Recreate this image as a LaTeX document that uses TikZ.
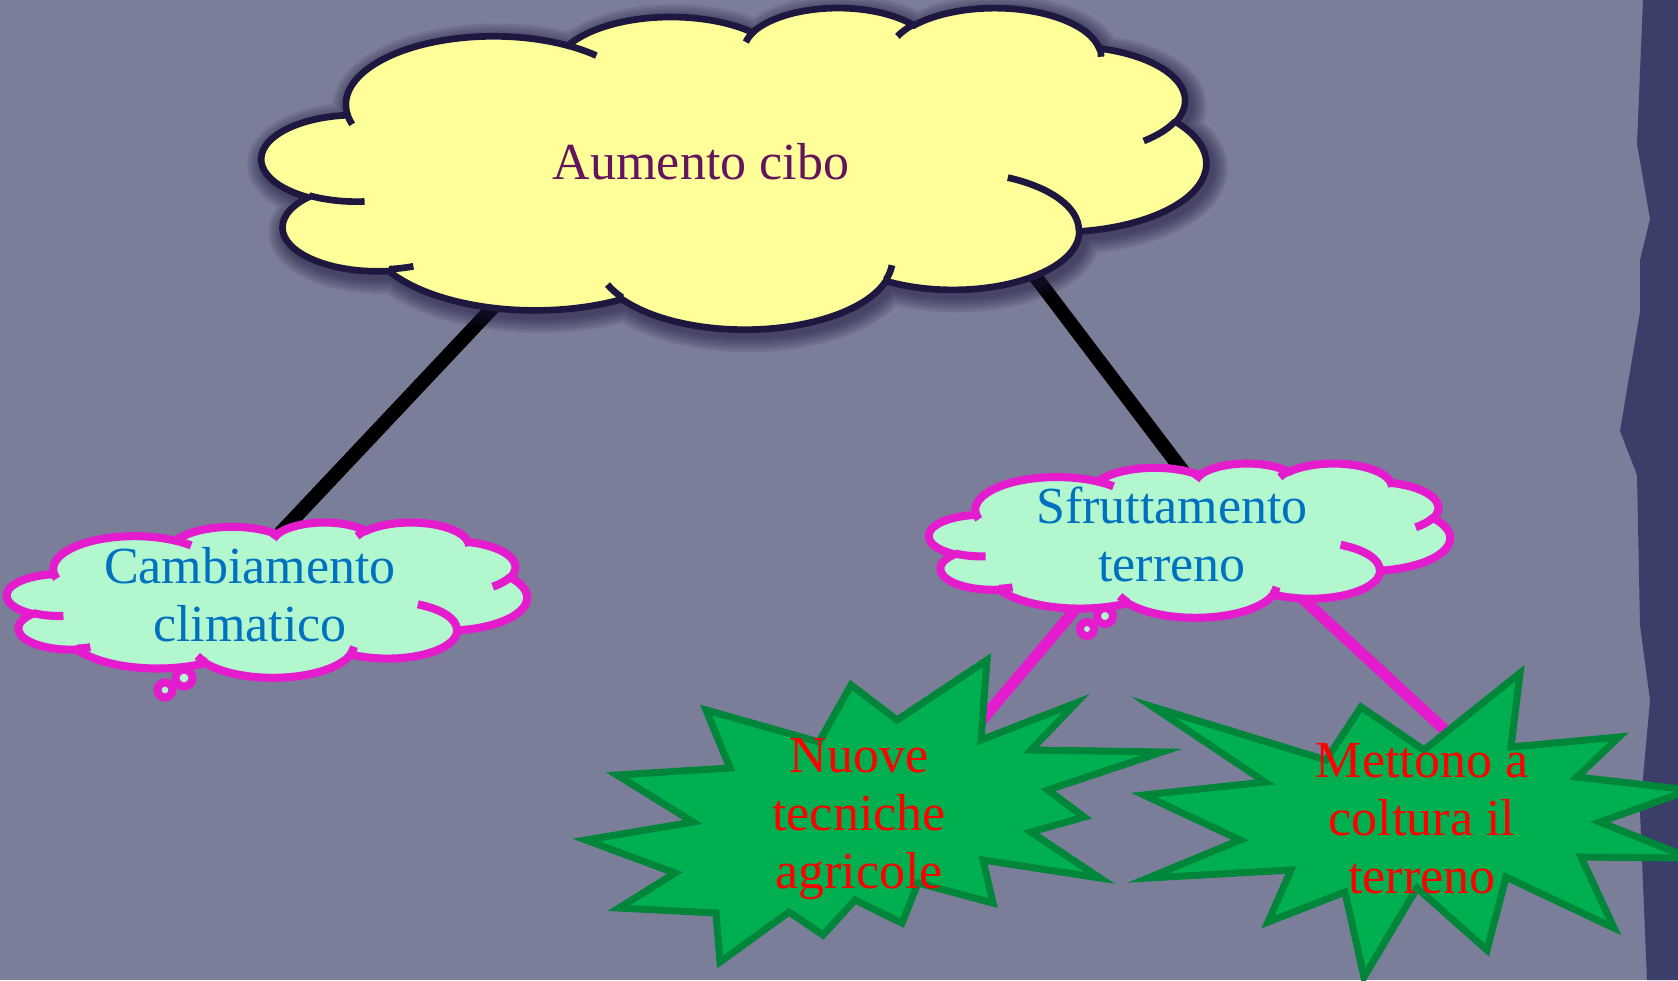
\documentclass[tikz,border=0pt]{standalone}
\usepackage{fontspec}
\setmainfont{Liberation Serif}
\usepackage{xcolor}
\definecolor{wall}{RGB}{123,126,153}
\definecolor{rim}{RGB}{60,62,106}
\definecolor{butter}{RGB}{255,255,153}
\definecolor{ink}{RGB}{30,24,64}
\definecolor{mint}{RGB}{178,247,206}
\definecolor{fuchsia}{RGB}{228,28,206}
\definecolor{leaf}{RGB}{0,176,80}
\definecolor{moss}{RGB}{0,134,58}
\definecolor{azure}{RGB}{0,112,192}
\definecolor{plum}{RGB}{100,20,92}
\usepackage{tikz}
\usetikzlibrary{backgrounds}
% one puff of the cloud: x radius, y radius, start angle, sweep
\newcommand\ooarc[4]{arc[x radius=#1,y radius=#2,start angle={atan2(sin(#3)/#2,cos(#3)/#1)},delta angle={mod(atan2(sin(#3+#4)/#2,cos(#3+#4)/#1)-atan2(sin(#3)/#2,cos(#3)/#1)+720,360)}]}
% cloud outline in a 100 x 100 box
\newcommand\cloudpath{(9.028,33.264) \ooarc{15.632}{21.273}{-190.487}{123.781} \ooarc{12.345}{16.822}{-144.102}{89.945} \ooarc{10.104}{13.762}{-145.808}{99.723} \ooarc{11.243}{15.266}{-130.986}{117.242} \ooarc{12.345}{16.836}{-78.709}{109.027} \ooarc{15.683}{21.343}{-46.267}{130.269} \ooarc{13.391}{18.211}{0.625}{114.033} \ooarc{15.630}{21.331}{22.452}{115.173} \ooarc{17.870}{24.405}{66.243}{75.711} \ooarc{10.093}{13.699}{-274.942}{146.736} \ooarc{10.058}{13.762}{-246.829}{152.519} -- cycle}
% the short arcs inside the cloud
\newcommand\cloudarcs{(10.863,60.595) \ooarc{10.058}{13.762}{86.742}{26.430} (16.037,80.785) \ooarc{10.093}{13.699}{73.611}{11.448} (38.144,90.486) \ooarc{15.630}{21.331}{137.624}{14.081} (66.729,80.442) \ooarc{15.630}{21.331}{6.453}{15.998} (79.002,53.134) \ooarc{13.391}{18.211}{-70.292}{70.917} (96.755,35.542) \ooarc{12.345}{16.836}{30.318}{27.752} (88.713,12.560) \ooarc{11.243}{15.266}{-13.744}{14.859} (67.310,9.148) \ooarc{11.243}{15.266}{-149.182}{18.195} (51.252,10.926) \ooarc{10.104}{13.762}{-163.494}{17.686} (32.407,12.019) \ooarc{15.632}{21.273}{-66.707}{12.319} (9.553,36.549) \ooarc{15.632}{21.273}{157.654}{11.858}}

\begin{document}
\begin{tikzpicture}[x=0.1mm,y=-0.1mm,
every node/.style={align=center,inner sep=0pt,font=\fontsize{14.8}{16.5}\selectfont},
pale/.style={draw=ink,line width=1.9pt},
mist/.style={draw=fuchsia,line width=2.3pt},
burst/.style={draw=moss,line width=2pt,fill=leaf},
stem/.style={line width=4pt,black},
twig/.style={line width=3.2pt,fuchsia}]
\useasboundingbox (0,0) rectangle (1678,980);
% clouds
\begin{scope}[shift={(262,7)},xscale=9.44,yscale=3.21]
\foreach \w in {10,8.5,7,5.5,4,2.5}
  \draw[ink,line width=\w pt,opacity=.12,shift={(.4,1.5)}] \cloudpath;
\filldraw[pale,fill=butter] \cloudpath;
\draw[pale] \cloudarcs;
\end{scope}
\node[text=plum] (cibo) at (701,162) {Aumento cibo};
\begin{scope}[shift={(7,522)},xscale=5.20,yscale=1.55]
\filldraw[mist,fill=mint] \cloudpath;
\draw[mist] \cloudarcs;
\end{scope}
\filldraw[mist,fill=mint] (165,690) circle[radius=7.5];
\filldraw[mist,fill=mint] (184,678) circle[radius=8.5];
\node[text=azure] (clima) at (250,595) {Cambiamento\\climatico};
\begin{scope}[shift={(929,463)},xscale=5.21,yscale=1.54]
\filldraw[mist,fill=mint] \cloudpath;
\draw[mist] \cloudarcs;
\end{scope}
\filldraw[mist,fill=mint] (1087,629) circle[radius=7];
\filldraw[mist,fill=mint] (1105,616) circle[radius=8];
\node[text=azure] (terreno) at (1172,534) {Sfruttamento\\terreno};
% bursts
\filldraw[burst] (706,710) -- (819,742) -- (851,685) -- (897,720) -- (987,660) -- (981,740) -- (1076,703) -- (1031,750) -- (1162,752) -- (1048,790) -- (1084,817) -- (1031,832) -- (1100,878) -- (983,860) -- (993,903) -- (918,883) -- (902,923) -- (855,900) -- (823,935) -- (789,912) -- (720,962) -- (716,913) -- (619,908) -- (675,873) -- (586,840) -- (693,822) -- (617,775) -- (730,768) -- cycle;
\node[text=red] (tecniche) at (859,819) {Nuove\\tecniche\\agricole};
\filldraw[burst] (1153,707) -- (1326,760) -- (1361,707) -- (1424,750) -- (1520,673) -- (1511,747) -- (1619,737) -- (1577,777) -- (1690,790) -- (1600,822) -- (1690,858) -- (1581,857) -- (1614,928) -- (1506,877) -- (1487,950) -- (1417,888) -- (1364,977) -- (1345,892) -- (1268,922) -- (1291,870) -- (1148,878) -- (1240,840) -- (1144,795) -- (1265,782) -- cycle;
\node[text=red] (coltura) at (1422,819) {Mettono a\\coltura il\\terreno};
% links, behind the shapes
\begin{scope}[on background layer]
\fill[wall] (0,0) rectangle (1678,980);
\fill[rim] (1643,0) -- (1637,144) -- (1650,219) -- (1640,260) -- (1640,312) -- (1620,431) -- (1637,475) -- (1640,625) -- (1650,700) -- (1640,812) -- (1647,980) -- (1678,980) -- (1678,0) -- cycle;
\draw[stem] ([xshift=-7.1mm]cibo.center) -- ([xshift=-2.8mm]clima.center);
\draw[stem] ([xshift=24.75mm]cibo.center) -- ([xshift=5.85mm]terreno.center);
\draw[twig] ([xshift=-3.3mm]terreno.center) -- ([xshift=7.3mm,yshift=4mm]tecniche.center);
\draw[twig] ([xshift=6.05mm]terreno.center) -- ([xshift=7.6mm,yshift=4mm]coltura.center);
\end{scope}
\end{tikzpicture}
\end{document}
